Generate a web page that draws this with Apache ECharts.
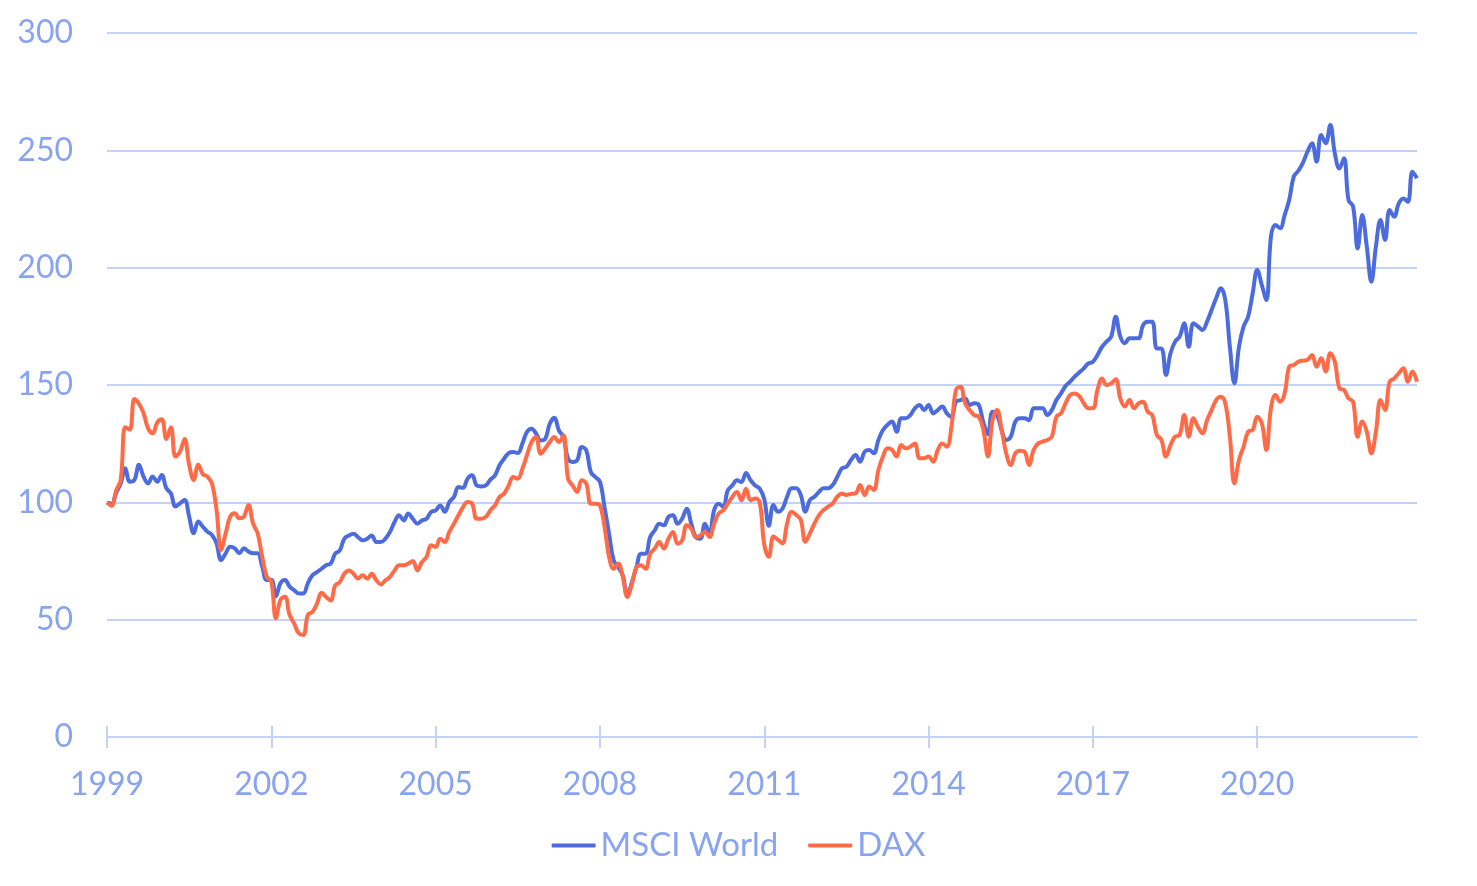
<!DOCTYPE html>
<html>
<head>
<meta charset="utf-8">
<script src="https://cdn.jsdelivr.net/npm/echarts@6/dist/echarts.min.js"></script>
<style>
html,body{margin:0;padding:0;background:#fff;}
#c{width:1477px;height:886px;}
</style>
</head>
<body>
<div id="c"></div>
<script>
// Monthly index values, Jan 1999 .. Dec 2022 (one row per year)
const startYear = 1999;
const msciWorld = [
100, 99.3, 104, 108, 114.5, 108.8, 109.5, 116, 111, 108, 111, 108.8,
111.6, 106, 103.8, 98.2, 99.6, 101, 93.9, 86.8, 91.8, 89.6, 87.5, 86.1,
82.5, 75.4, 78.3, 81.1, 80.4, 78.3, 80.4, 79, 78.3, 78.3, 72.6, 66.9,
67, 60, 65.5, 66.9, 64.1, 62.6, 61.2, 61.2, 65.5, 68.9, 70.3, 71.7,
73.2, 73.9, 78.1, 79.5, 84.5, 85.9, 86.6, 85.2, 83.8, 84.5, 85.9, 83.1,
83.1, 84.5, 87.4, 91.6, 94.5, 92.3, 95.2, 93, 90.9, 92.3, 93, 95.9,
96.6, 98.7, 96, 100.1, 102.3, 106.5, 106.2, 110.1, 111.5, 107.2, 106.8, 107.2,
109.7, 111.5, 115.8, 118.6, 121, 121.4, 121, 125, 130, 131.4, 129.3, 126.4,
127, 133.5, 136, 130.7, 127.8, 118.6, 117.2, 117.9, 123.6, 122.2, 112.9, 110.8,
108.7, 98, 86.6, 75.3, 72.4, 68.9, 60.4, 66, 72.4, 78.1, 78.1, 85.2,
88.1, 90.9, 90.2, 93.8, 94.5, 90.9, 93, 97.3, 90.9, 85.2, 84.5, 90.9,
86.6, 96.6, 99.4, 98, 105.1, 107.2, 109.4, 108.7, 112.5, 109.4, 107.2, 105.8,
101.3, 90, 98.9, 96, 97.4, 102.4, 106, 106, 103.1, 96, 101, 102.4,
104.5, 106, 106, 107.4, 110.9, 114.5, 115.2, 118, 120.2, 117.3, 121.6, 122.3,
120.9, 126.6, 130.8, 133, 134.4, 130.1, 135.8, 135.8, 137.2, 140.1, 141.5, 139.3,
141.5, 137.9, 139.3, 140.8, 137.9, 136.5, 142.9, 143.6, 144.3, 141.5, 142.2, 141.5,
134, 129, 138.6, 137.2, 130.8, 126.6, 128, 134.4, 135.8, 135.8, 135, 140.1,
140.1, 140.1, 137.2, 139.3, 143.6, 146.4, 149.6, 151.4, 153.6, 155.3, 157.1, 159.2,
159.9, 162.8, 166.3, 168.5, 170.6, 179.1, 170.6, 167.8, 169.9, 169.9, 169.9, 175.6,
177, 177, 165.6, 165.6, 154.3, 163.5, 168.5, 170.6, 176.3, 166.3, 176.3, 175,
173.4, 177, 182, 187, 191.2, 186.2, 166.3, 150.7, 166.3, 174.9, 179.1, 189.1,
199, 192.6, 186.2, 213.2, 218.2, 216.8, 222.4, 228.8, 238.8, 241.3, 244.7, 249.4,
253, 245.2, 256.5, 253, 260.8, 248.7, 242.3, 246.6, 228.8, 226, 208.2, 222.4,
209, 194, 209, 220.3, 211.8, 224.6, 221.7, 227.4, 229.5, 228.1, 240.9, 238.1
];
const dax = [
100, 98.5, 105, 109.5, 132, 131, 144, 142, 138, 131.5, 129.4, 134,
135.4, 127, 132, 119.5, 121.6, 127, 116, 109.5, 116, 112, 111, 108,
96.7, 79.7, 86.8, 93.9, 95.3, 93.2, 93.9, 98.9, 91, 86.8, 76.8, 68.3,
66.2, 50.6, 58.4, 59.8, 52, 48.4, 44.2, 43.5, 52, 53.3, 56.8, 61.5,
59.7, 58.2, 64.6, 66, 69.6, 71, 69.6, 67.5, 68.9, 67.5, 69.6, 66.8,
65, 66.8, 68.2, 71, 73.2, 73.2, 73.9, 75, 71, 74.6, 76.7, 81.7,
81, 84.5, 83.1, 87.4, 90.9, 94.5, 98, 100.1, 99.4, 93, 93, 93.8,
96.6, 98.7, 102.3, 103.7, 107.2, 110.8, 110.1, 114.3, 120, 125.7, 127.8, 120.7,
122.9, 125.7, 127.8, 125.7, 128.6, 110.1, 107.2, 104.4, 109.4, 108, 99.4, 99.4,
98.7, 89.5, 76.7, 71.7, 73.9, 68.2, 59.7, 65.3, 72.4, 73.2, 71.7, 78.1,
80.3, 83.1, 80.3, 84.5, 87.4, 82.4, 83.8, 90.2, 88.8, 85.2, 85.9, 87.4,
85.2, 90.9, 95.2, 96.6, 99.4, 102.3, 104.4, 100.9, 105.8, 100.9, 101.6, 100,
82, 76.8, 85.4, 84, 82.5, 91, 96, 94.6, 92.5, 83.2, 86.8, 91,
94.6, 96.7, 98.2, 99.6, 102.4, 103.8, 103.1, 103.6, 103.8, 107.4, 103.1, 106.7,
105.3, 113.8, 119.5, 123, 122.3, 119.5, 124.4, 123, 123.7, 125.1, 118.8, 118.8,
119.5, 117.3, 122.3, 125.1, 123.7, 132.2, 147.9, 149.3, 142.2, 139.3, 137.2, 136.5,
130.8, 119.5, 135, 139.3, 130.8, 120.9, 115.9, 120.9, 122, 121.6, 115.9, 122.3,
125.1, 125.9, 126.6, 128, 136.5, 137.9, 142.2, 145.7, 146.4, 145.3, 142.2, 140.1,
140.1, 147.9, 152.8, 150, 150.7, 152.4, 144.3, 140.8, 143.6, 140.1, 142.2, 142.9,
138.6, 137.2, 128.7, 126.6, 119.5, 124.4, 128, 128.7, 137.2, 128, 135.8, 132.2,
129.4, 135, 139.3, 143.6, 145, 142.2, 128, 108.1, 118, 123.7, 130.1, 130.8,
136.5, 133.7, 122.3, 140.1, 145.7, 142.9, 146.4, 157.8, 158.5, 159.9, 160.4, 160.7,
162.8, 157.8, 161.4, 155.7, 163.5, 159.9, 148.6, 147.9, 144.3, 142.9, 128, 134.4,
130.1, 120.9, 130.1, 143.6, 139.3, 151.4, 152.8, 155, 157.1, 151.4, 155.7, 151.4
];
const xTicks = [1999, 2002, 2005, 2008, 2011, 2014, 2017, 2020];
const seriesNames = ['MSCI World', 'DAX'];

const labelColor = '#88a3f0';
const gridColor = '#c3d2f8';
const fontFamily = 'Lato, "Noto Sans", sans-serif';

const toPairs = arr => arr.map((v, i) => [startYear + i / 12, v]);
const xMax = startYear + (msciWorld.length - 1) / 12;

const chart = echarts.init(document.getElementById('c'), null, {renderer: 'canvas'});
chart.setOption({
  animation: false,
  backgroundColor: '#ffffff',
  grid: {left: 107, right: 60, top: 33, bottom: 149},
  legend: {
    data: seriesNames,
    bottom: 19,
    left: 'center',
    icon: 'roundRect',
    itemWidth: 44,
    itemHeight: 4,
    itemGap: 30,
    textStyle: {color: labelColor, fontSize: 33, fontFamily: fontFamily}
  },
  xAxis: [{
    type: 'value',
    min: startYear,
    max: xMax,
    interval: 3,
    axisLine: {show: true, lineStyle: {color: gridColor, width: 2}},
    axisTick: {show: true, length: 11, lineStyle: {color: gridColor, width: 2}, customValues: xTicks},
    axisLabel: {color: labelColor, fontSize: 32, fontFamily: fontFamily, margin: 32,
      customValues: xTicks, formatter: v => String(Math.round(v))},
    splitLine: {show: false}
  }, {
    type: 'value',
    position: 'bottom',
    min: startYear,
    max: xMax,
    interval: 3,
    axisLine: {show: false},
    axisTick: {show: true, inside: true, length: 11, lineStyle: {color: gridColor, width: 2}, customValues: xTicks},
    axisLabel: {show: false},
    splitLine: {show: false}
  }],
  yAxis: {
    type: 'value',
    min: 0,
    max: 300,
    interval: 50,
    axisLine: {show: false},
    axisTick: {show: false},
    axisLabel: {color: labelColor, fontSize: 32, fontFamily: fontFamily, margin: 34},
    splitLine: {lineStyle: {color: gridColor, width: 2}}
  },
  series: [{
    name: seriesNames[0],
    type: 'line',
    data: toPairs(msciWorld),
    showSymbol: false,
    smooth: 0.4,
    color: '#4c6bdc',
    lineStyle: {width: 4, color: '#4c6bdc'}
  }, {
    name: seriesNames[1],
    type: 'line',
    data: toPairs(dax),
    showSymbol: false,
    smooth: 0.4,
    color: '#ff6a47',
    lineStyle: {width: 4, color: '#ff6a47'}
  }]
});
</script>
</body>
</html>
